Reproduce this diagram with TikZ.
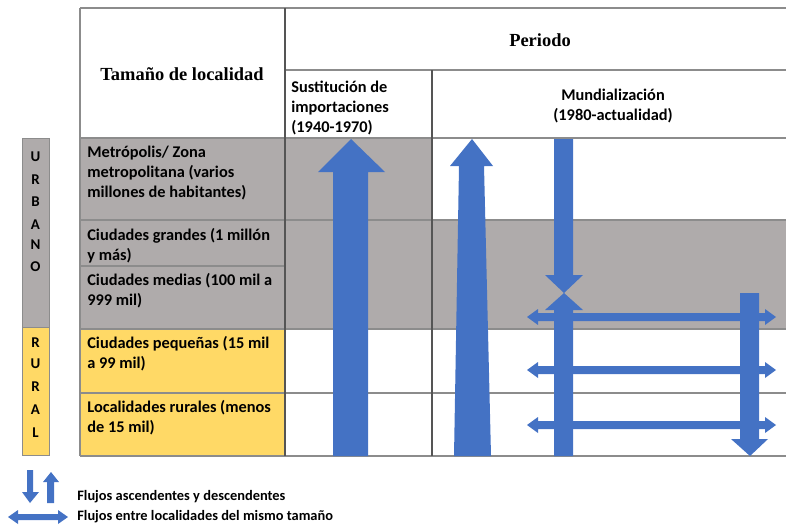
\documentclass[tikz,border=0pt]{standalone}
\usepackage{fontspec}
\setmainfont{Carlito}
\newfontfamily\serifcab{Liberation Serif}
\definecolor{azul}{HTML}{4472C4}
\definecolor{grisfondo}{HTML}{AFABAB}
\definecolor{amarillo}{HTML}{FFD966}
\definecolor{linea}{HTML}{8C8C8C}
\definecolor{lineaosc}{HTML}{555555}
\tikzset{
  flecha/.style={fill=azul},
  rejilla/.style={draw=linea, line width=0.6pt},
  texto/.style={font=\bfseries\fontsize{9.3}{11.3}\selectfont, align=left, anchor=north west, inner sep=0pt},
  cabecera/.style={font=\serifcab\bfseries\fontsize{10.5}{12}\selectfont, inner sep=0pt},
  letra/.style={font=\bfseries\fontsize{8.5}{8.5}\selectfont, inner sep=0pt},
  leyenda/.style={font=\bfseries\fontsize{8.2}{9}\selectfont, anchor=west, inner sep=0pt},
}
\begin{document}
\begin{tikzpicture}[x=0.02cm,y=-0.02cm]
    \useasboundingbox (0,0) rectangle (786,524);
    % fondos de la tabla
    \fill[grisfondo] (80,138) rectangle (285,329);
    \fill[amarillo] (80,329) rectangle (285,456);
    \fill[grisfondo] (285,138) rectangle (432,220);
    \fill[grisfondo] (285,220) rectangle (786,329);
    % barra lateral
    \filldraw[fill=grisfondo, draw=linea] (22,138) rectangle (49,327);
    \filldraw[fill=amarillo, draw=linea] (22,327) rectangle (49,455);
    \foreach \l/\y in {U/157,R/180,B/202,A/225,N/245,O/267,R/343,U/364,R/387,A/410,L/433}
        \node[letra] (letra\y) at (35.5,\y) {\l};
    % rejilla
    \draw[rejilla] (80,8) -- (786,8);
    \draw[rejilla] (285,70) -- (786,70);
    \draw[rejilla] (80,138) -- (786,138);
    \draw[rejilla] (80,220) -- (786,220);
    \draw[rejilla] (80,266) -- (285,266);
    \draw[rejilla] (80,329) -- (786,329);
    \draw[rejilla] (80,393) -- (786,393);
    \draw[rejilla] (80,456) -- (786,456);
    \draw[rejilla] (80,8) -- (80,456);
    \draw[rejilla, draw=lineaosc] (285,8) -- (285,456);
    \draw[rejilla, draw=lineaosc] (432,70) -- (432,456);
    % cabeceras
    \node[cabecera] (tamano) at (182,74) {Tamaño de localidad};
    \node[cabecera] (periodo) at (540,40) {Periodo};
    \node[texto] (sustitucion) at (291,81) {Sustitución de\\importaciones\\(1940-1970)};
    \node[texto, align=center, anchor=center] (mundial) at (613,106) {Mundialización\\(1980-actualidad)};
    % filas
    \node[texto] (metropolis) at (87,146) {Metrópolis/ Zona\\metropolitana (varios\\millones de habitantes)};
    \node[texto] (grandes) at (87,228) {Ciudades grandes (1 millón\\y más)};
    \node[texto] (medias) at (87,273) {Ciudades medias (100 mil a\\999 mil)};
    \node[texto] (pequenas) at (87,336) {Ciudades pequeñas (15 mil\\a 99 mil)};
    \node[texto] (rurales) at (87,400) {Localidades rurales (menos\\de 15 mil)};
    % flechas verticales
    \fill[flecha] (333,456) -- (333,172) -- (318,172) -- (351,139) -- (385,172) -- (368,172) -- (368,456) -- cycle;
    \fill[flecha] (454,456) -- (459,166) -- (450,166) -- (472,139) -- (493,166) -- (484,166) -- (491,456) -- cycle;
    \fill[flecha] (554,139) -- (554,275) -- (545,275) -- (564,293) -- (583,275) -- (573,275) -- (573,139) -- cycle;
    \fill[flecha] (554,456) -- (554,310) -- (545,310) -- (564,293) -- (583,310) -- (573,310) -- (573,456) -- cycle;
    \fill[flecha] (740,293) -- (740,439) -- (731,439) -- (750,456) -- (768,439) -- (759,439) -- (759,293) -- cycle;
    % flechas horizontales
    \foreach \y in {317,370,425}
        \fill[flecha] (527,\y) -- (538,\y-8) -- (538,\y-4) -- (765,\y-4) -- (765,\y-8) -- (776,\y)
            -- (765,\y+8) -- (765,\y+4) -- (538,\y+4) -- (538,\y+8) -- cycle;
    % leyenda
    \fill[flecha] (27,470) -- (27,492) -- (22,492) -- (30,503) -- (39,492) -- (33,492) -- (33,470) -- cycle;
    \fill[flecha] (47,503) -- (47,482) -- (43,482) -- (51,472) -- (59,482) -- (54,482) -- (54,503) -- cycle;
    \fill[flecha] (8,517) -- (18,510) -- (18,514) -- (58,514) -- (58,510) -- (68,517)
        -- (58,524) -- (58,520) -- (18,520) -- (18,524) -- cycle;
    \node[leyenda] (verticales) at (77,497) {Flujos ascendentes y descendentes};
    \node[leyenda] (horizontales) at (77,517) {Flujos entre localidades del mismo tamaño};
\end{tikzpicture}
\end{document}
